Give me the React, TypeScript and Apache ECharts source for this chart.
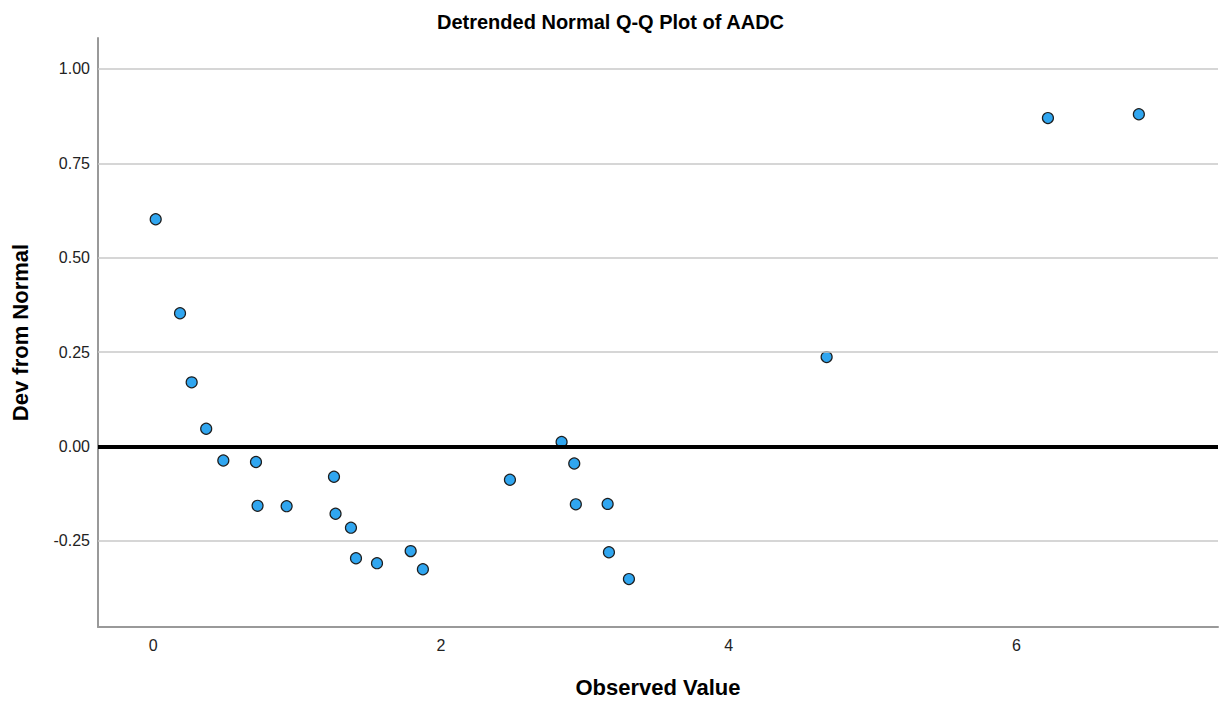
import React, { useEffect, useRef } from "react";
import * as echarts from "echarts";

const observedValues = [
  0.017, 0.186, 0.267, 0.368, 0.487, 0.714, 0.725, 0.927, 1.256, 1.267, 1.374, 1.409, 1.555,
  1.789, 1.874, 2.479, 2.838, 2.926, 2.937, 3.158, 3.167, 3.306, 4.68, 6.218, 6.85,
];
const devFromNormal = [
  0.602, 0.353, 0.17, 0.047, -0.037, -0.041, -0.157, -0.158, -0.08, -0.178, -0.215, -0.296, -0.309,
  -0.277, -0.325, -0.088, 0.012, -0.045, -0.153, -0.152, -0.28, -0.351, 0.237, 0.87, 0.88,
];
const yTicks = [-0.25, 0, 0.25, 0.5, 0.75, 1.0];
const xTicks = [0, 2, 4, 6];
const referenceLine = 0;

export default function App() {
  const ref = useRef<HTMLDivElement>(null);
  useEffect(() => {
    document.body.style.margin = "0";
    const chart = echarts.init(ref.current!, null, { renderer: "svg" });
    const font = "Arial, 'Liberation Sans', Helvetica, sans-serif";
    const points = observedValues.map((x, i) => [x, devFromNormal[i]]);
    const gridLines = yTicks
      .filter((v) => v !== referenceLine)
      .map((v) => ({ yAxis: v, lineStyle: { color: "#c9c9c9", width: 1.5, type: "solid" as const } }));
    chart.setOption({
      animation: false,
      backgroundColor: "#ffffff",
      title: {
        text: "Detrended Normal Q-Q Plot of AADC",
        left: "center",
        top: 7,
        textStyle: { fontFamily: font, fontSize: 20, fontWeight: "bold", color: "#000" },
      },
      grid: { left: 98, right: 3, top: 38, bottom: 77, containLabel: false },
      xAxis: {
        type: "value",
        min: -0.384,
        max: 7.4,
        name: "Observed Value",
        nameLocation: "middle",
        nameGap: 49,
        nameTextStyle: { fontFamily: font, fontSize: 22, fontWeight: "bold", color: "#000" },
        axisLine: { show: true, onZero: false, lineStyle: { color: "#999999", width: 2 } },
        axisTick: { show: false },
        splitLine: { show: false },
        axisLabel: {
          customValues: xTicks,
          fontFamily: font,
          fontSize: 16,
          color: "#222",
          margin: 10,
          formatter: (v: number) => String(v),
        },
      },
      yAxis: {
        type: "value",
        min: -0.478,
        max: 1.082,
        name: "Dev from Normal",
        nameLocation: "middle",
        nameGap: 67,
        nameTextStyle: { fontFamily: font, fontSize: 22, fontWeight: "bold", color: "#000" },
        axisLine: { show: true, onZero: false, lineStyle: { color: "#999999", width: 2 } },
        axisTick: { show: false },
        splitLine: { show: false },
        axisLabel: {
          customValues: yTicks,
          fontFamily: font,
          fontSize: 16,
          color: "#222",
          margin: 8,
          formatter: (v: number) => v.toFixed(2),
        },
      },
      series: [
        {
          type: "scatter",
          data: points,
          symbol: "circle",
          symbolSize: 11,
          itemStyle: { color: "#30a6f0", borderColor: "#1e1e1e", borderWidth: 1.2, opacity: 1 },
          z: 3,
          markLine: {
            silent: true,
            symbol: "none",
            label: { show: false },
            z: 4,
            data: [
              ...gridLines,
              { yAxis: referenceLine, lineStyle: { color: "#000000", width: 4, type: "solid" } },
            ],
          },
        },
      ],
    });
    return () => chart.dispose();
  }, []);
  return <div ref={ref} style={{ width: 1221, height: 704 }} />;
}
